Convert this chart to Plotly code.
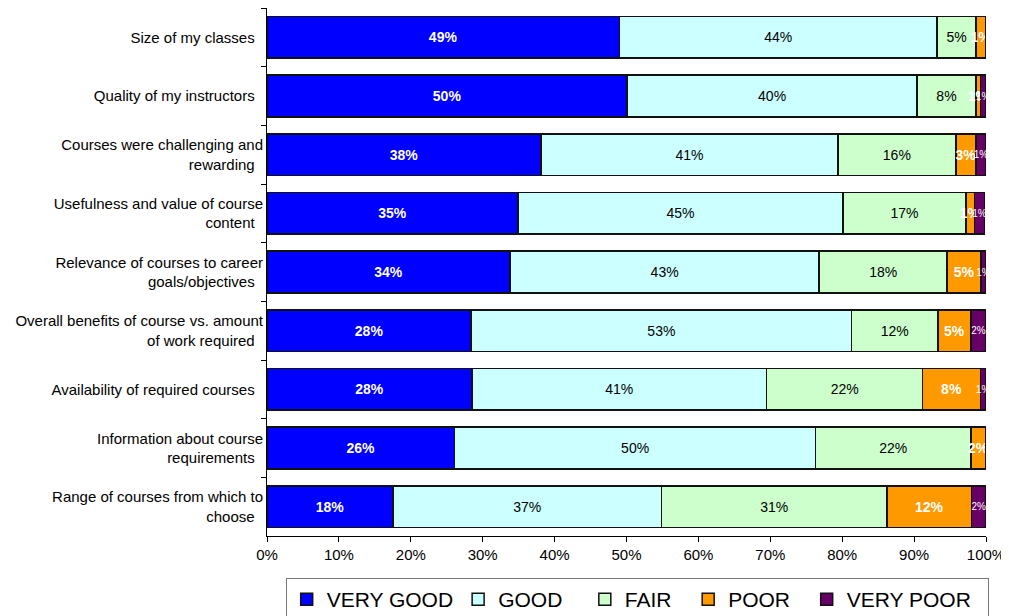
import plotly.graph_objects as go

categories = [
    "Size of my classes",
    "Quality of my instructors",
    "Courses were challenging and<br>rewarding",
    "Usefulness and value of course<br>content",
    "Relevance of courses to career<br>goals/objectives",
    "Overall benefits of course vs. amount<br>of work required",
    "Availability of required courses",
    "Information about course<br>requirements",
    "Range of courses from which to<br>choose",
]

very_good = [49.0, 50.1, 38.1, 34.9, 33.8, 28.4, 28.5, 26.1, 17.5]
good = [44.2, 40.3, 41.3, 45.2, 43.0, 52.9, 41.0, 50.2, 37.4]
fair = [5.4, 8.2, 16.4, 17.1, 17.8, 12.0, 21.7, 21.6, 31.3]
poor = [1.4, 0.6, 2.8, 1.2, 4.7, 4.6, 8.0, 2.1, 11.8]
very_poor = [0.0, 0.8, 1.4, 1.4, 0.7, 2.1, 0.8, 0.0, 2.0]

FONT = "Liberation Sans"
NB = "\u00a0"  # trailing spacing in the legend entries

series = [
    ("VERY GOOD", very_good, "#0000FF", dict(color="white", size=14, family=FONT), True, 0),
    ("GOOD", good, "#CCFFFF", dict(color="black", size=14, family=FONT), False, 3),
    ("FAIR", fair, "#CCFFCC", dict(color="black", size=14, family=FONT), False, 2),
    ("POOR", poor, "#FF9900", dict(color="white", size=14, family=FONT), True, 2),
    ("VERY POOR", very_poor, "#660066", dict(color="white", size=10, family=FONT), False, 2),
]

fig = go.Figure()
for name, vals, color, tfont, bold, pad in series:
    labels = []
    for v in vals:
        if v <= 0:
            labels.append("")
        elif bold:
            labels.append("<b>%d%%</b>" % round(v))
        else:
            labels.append("%d%%" % round(v))
    fig.add_trace(go.Bar(
        y=categories, x=vals, name=name + NB * pad, orientation="h",
        marker=dict(color=color, line=dict(color="#111111", width=1.5)),
        text=labels, textposition="inside", insidetextanchor="middle",
        textangle=0, constraintext="none", insidetextfont=tfont,
        hoverinfo="x+y",
    ))

# page body has an 8px margin, so the figure is sized/offset to compensate
fig.update_layout(
    barmode="stack",
    bargap=0.29,
    width=1001, height=608,
    margin=dict(l=259, r=23, t=0, b=80),
    paper_bgcolor="white",
    plot_bgcolor="white",
    font=dict(family=FONT, size=15, color="black"),
    legend=dict(
        orientation="h", x=0.026, y=0.0625, xanchor="left", yanchor="top",
        yref="container",
        bordercolor="#777777", borderwidth=1, bgcolor="white",
        font=dict(size=21), traceorder="normal",
        itemwidth=30, tracegroupgap=0,
    ),
    xaxis=dict(
        range=[0, 100], tickvals=list(range(0, 101, 10)),
        ticktext=["%d%%" % t for t in range(0, 101, 10)],
        showgrid=False, zeroline=False, showline=True, linecolor="black",
        linewidth=1, ticks="outside", ticklen=5, tickcolor="black",
        tickfont=dict(size=15), automargin=False,
    ),
    yaxis=dict(
        autorange="reversed", showgrid=False, showline=True, linecolor="black",
        linewidth=1, ticks="outside", ticklen=5, tickcolor="black",
        tickson="boundaries", tickfont=dict(size=15), ticksuffix="  ",
        automargin=False,
    ),
)

fig.write_html("out.html")
